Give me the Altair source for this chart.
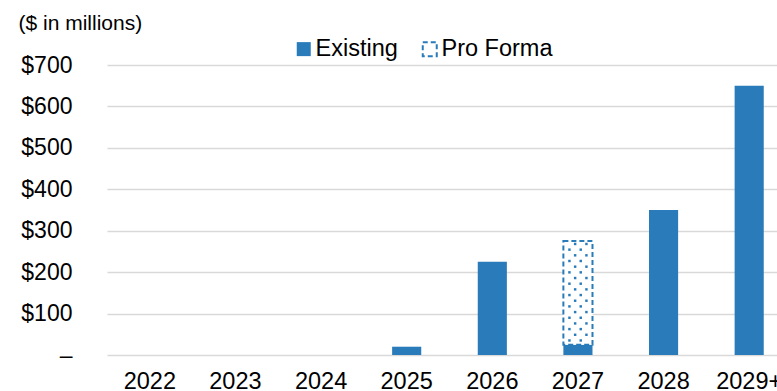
import altair as alt
import pandas as pd

# Debt maturity profile ($ in millions)
years = ["2022", "2023", "2024", "2025", "2026", "2027", "2028", "2029+"]
existing = [0, 0, 0, 20, 225, 25, 350, 650]
pro_forma = [0, 0, 0, 0, 0, 250, 0, 0]
series_names = ["Existing", "Pro Forma"]
y_ticks = [0, 100, 200, 300, 400, 500, 600, 700]

BLUE = "#2A7BB9"
GRID = "#D9D9D9"
FONT = "Liberation Sans"

# stacked segments: existing from zero, pro forma on top of existing
rows = []
for yr, e, p in zip(years, existing, pro_forma):
    if e:
        rows.append({"year": yr, "series": "Existing", "lo": 0, "hi": e})
    if p:
        rows.append({"year": yr, "series": "Pro Forma", "lo": e, "hi": e + p})
bars = pd.DataFrame(rows)

# dotted fill texture for the pro forma segment (staggered rows)
dot_rows = []
for yr, e, p in zip(years, existing, pro_forma):
    if p:
        v, k = e + p - 7, 0
        while v > e + 4:
            dot_rows.append({"year": yr, "v": v, "row": k % 2})
            v -= 13.7
            k += 1
dots = pd.DataFrame(dot_rows)

x_enc = alt.X(
    "year:N",
    sort=years,
    scale=alt.Scale(domain=years, range=[0, 685], paddingInner=0.66, paddingOuter=0.33),
    axis=alt.Axis(
        title=None, labelAngle=0, labelFontSize=23.5, labelFont=FONT, labelColor="#000",
        labelPadding=14, ticks=False, domain=False,
    ),
)

y_scale = alt.Scale(domain=[0, 700], nice=False)

bar_layer = alt.Chart(bars).mark_bar(stroke=BLUE).encode(
    x=x_enc,
    y=alt.Y(
        "hi:Q",
        scale=y_scale,
        axis=alt.Axis(
            values=y_ticks,
            labelExpr="datum.value == 0 ? '–' : '$' + datum.value",
            title="($ in millions)",
            titleAngle=0, titleX=-89, titleY=-36, titleAlign="left", titleBaseline="alphabetic",
            titleFontSize=21, titleFontWeight="normal", titleFont=FONT, titleColor="#000",
            labelFontSize=23, labelFont=FONT, labelColor="#000", labelPadding=35,
            ticks=False, domain=False, grid=True, gridColor=GRID, gridWidth=1.5,
        ),
    ),
    y2="lo:Q",
    fill=alt.Fill(
        "series:N",
        scale=alt.Scale(domain=series_names, range=[BLUE, "white"]),
        legend=alt.Legend(
            title=None, orient="none", legendX=185, legendY=-28, direction="horizontal",
            symbolType="square", symbolSize=196, symbolStrokeColor=BLUE,
            symbolStrokeWidth=1.5, symbolDash=[3, 2], symbolOpacity=1,
            labelFontSize=23.5, labelFont=FONT, labelColor="#000", labelOffset=0,
            columnPadding=20, padding=0,
        ),
    ),
    strokeWidth=alt.StrokeWidth(
        "series:N", scale=alt.Scale(domain=series_names, range=[0, 2]), legend=None
    ),
    strokeDash=alt.StrokeDash(
        "series:N", scale=alt.Scale(domain=series_names, range=[[1, 0], [5, 3]]), legend=None
    ),
)

dot_layers = []
for row, offsets in [(0, [-2.8, 8.5]), (1, [-8.5, 2.8])]:
    for off in offsets:
        dot_layers.append(
            alt.Chart(dots)
            .transform_filter(alt.datum.row == row)
            .mark_square(size=6, color=BLUE, opacity=1, xOffset=off)
            .encode(x=alt.X("year:N", sort=years), y=alt.Y("v:Q", scale=y_scale))
        )

chart = (
    alt.layer(bar_layer, *dot_layers)
    .properties(
        width=670,
        height=290,
        autosize=alt.AutoSizeParams(type="none"),
        padding={"left": 107, "top": 65, "right": 0, "bottom": 36},
        background="white",
    )
    .configure_view(stroke=None)
)

chart.save("out.html", embed_options={"renderer": "svg", "actions": False})
